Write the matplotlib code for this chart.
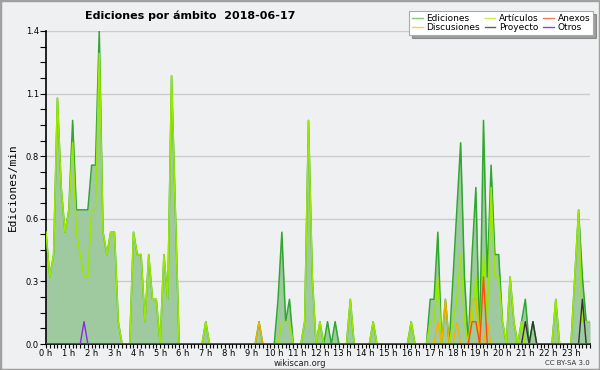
import matplotlib
matplotlib.use("Agg")
import matplotlib.pyplot as plt
import numpy as np
from matplotlib.lines import Line2D
from matplotlib.patches import Rectangle
from matplotlib.ticker import FixedLocator, MultipleLocator

# 10-minute buckets, edits per minute (144 values, rows = 2 hours)
ediciones = [
    0.5, 0.3, 0.4, 1.1, 0.7, 0.5, 0.6, 1.0, 0.6, 0.6, 0.6, 0.6,
    0.8, 0.8, 1.4, 0.5, 0.4, 0.5, 0.5, 0.1, 0, 0, 0, 0.5,
    0.4, 0.4, 0.1, 0.4, 0.2, 0.2, 0, 0.4, 0.2, 1.2, 0.6, 0,
    0, 0, 0, 0, 0, 0, 0.1, 0, 0, 0, 0, 0,
    0, 0, 0, 0, 0, 0, 0, 0, 0.1, 0, 0, 0,
    0, 0.2, 0.5, 0.1, 0.2, 0, 0, 0, 0.1, 1.0, 0.3, 0,
    0.1, 0, 0.1, 0, 0.1, 0, 0, 0, 0.2, 0, 0, 0,
    0, 0, 0.1, 0, 0, 0, 0, 0, 0, 0, 0, 0,
    0.1, 0, 0, 0, 0, 0.2, 0.2, 0.5, 0, 0.2, 0, 0.3,
    0.6, 0.9, 0.3, 0, 0.4, 0.7, 0, 1.0, 0.3, 0.8, 0.4, 0.4,
    0.1, 0, 0.3, 0.1, 0, 0.1, 0.2, 0, 0.1, 0, 0, 0,
    0, 0, 0.2, 0, 0, 0, 0, 0.3, 0.6, 0.3, 0.1, 0.1,
]
articulos = [
    0.5, 0.3, 0.4, 1.1, 0.7, 0.5, 0.6, 0.9, 0.5, 0.4, 0.3, 0.3,
    0.6, 0.6, 1.3, 0.5, 0.4, 0.5, 0.5, 0.1, 0, 0, 0, 0.5,
    0.4, 0.4, 0.1, 0.4, 0.2, 0.2, 0, 0.4, 0.2, 1.2, 0.6, 0,
    0, 0, 0, 0, 0, 0, 0.1, 0, 0, 0, 0, 0,
    0, 0, 0, 0, 0, 0, 0, 0, 0, 0, 0, 0,
    0, 0, 0.1, 0.1, 0.1, 0, 0, 0, 0.1, 1.0, 0.3, 0,
    0.1, 0, 0, 0, 0, 0, 0, 0, 0.2, 0, 0, 0,
    0, 0, 0.1, 0, 0, 0, 0, 0, 0, 0, 0, 0,
    0.1, 0, 0, 0, 0, 0.1, 0.1, 0.3, 0, 0, 0, 0.1,
    0.2, 0.4, 0.1, 0, 0.1, 0.3, 0, 0.4, 0.1, 0.7, 0.3, 0.3,
    0.1, 0, 0.3, 0.1, 0, 0.1, 0, 0, 0, 0, 0, 0,
    0, 0, 0.2, 0, 0, 0, 0, 0.3, 0.6, 0.1, 0.1, 0.1,
]
# sparse series: time of bucket -> value
discusiones_t = ["09:20", "17:10", "17:30", "18:00", "18:40", "18:50", "19:20"]
discusiones_v = [0.1, 0.1, 0.2, 0.1, 0.2, 0.2, 0.1]
anexos_t = ["18:40", "18:50", "19:10"]
anexos_v = [0.1, 0.1, 0.3]
proyecto_t = ["21:00", "21:20", "23:30"]
proyecto_v = [0.1, 0.1, 0.2]
otros_t = ["01:40"]
otros_v = [0.1]

hourLabels = [f"{h} h" for h in range(24)]
yTicks = [0, 0.28, 0.56, 0.84, 1.12, 1.4]
yLabels = ["0.0", "0.3", "0.6", "0.8", "1.1", "1.4"]


def sparse(times, vals):
    arr = np.zeros(144)
    for tt, v in zip(times, vals):
        hh, mm = tt.split(":")
        arr[int(hh) * 6 + int(mm) // 10] = v
    return arr


t = np.arange(144) / 6.0
bg = "#eff0f1"

fig = plt.figure(figsize=(6, 3.7), dpi=100, facecolor=bg)
ax = fig.add_axes([46 / 600, 1 - 344 / 370, 544 / 600, 313 / 370])
ax.set_facecolor(bg)

ax.fill_between(t, ediciones, color="#9fca9f", lw=0, zorder=2)
ax.plot(t, ediciones, color="#2ea82e", lw=1.1, zorder=3)
ax.plot(t, articulos, color="#9be800", lw=1.1, zorder=4)
ax.plot(t, sparse(discusiones_t, discusiones_v), color="#f0b400", lw=1.0, zorder=5)
ax.plot(t, sparse(anexos_t, anexos_v), color="#ff4a10", lw=1.0, zorder=6)
ax.plot(t, sparse(proyecto_t, proyecto_v), color="#333333", lw=1.0, zorder=7)
ax.plot(t, sparse(otros_t, otros_v), color="#8a2be2", lw=1.0, zorder=8)

ax.set_xlim(0, 143 / 6)
ax.set_ylim(0, 1.4)
ax.xaxis.set_major_locator(FixedLocator(range(24)))
ax.set_xticklabels(hourLabels)
ax.xaxis.set_minor_locator(MultipleLocator(1 / 6))
ax.yaxis.set_major_locator(FixedLocator(yTicks))
ax.set_yticklabels(yLabels)
ax.yaxis.set_minor_locator(MultipleLocator(0.07))
ax.tick_params(axis="both", which="both", direction="out", color="black", width=0.8, labelsize=6, pad=1)
ax.tick_params(axis="x", which="both", length=3, pad=0.5)
ax.tick_params(axis="y", which="both", length=4)
for s in ["top", "right"]:
    ax.spines[s].set_visible(False)
ax.spines["left"].set_linewidth(1.2)
ax.spines["bottom"].set_linewidth(1.2)
ax.grid(axis="y", which="major", color="#cccccc", lw=1.0, zorder=1)
ax.set_axisbelow(True)
ax.set_ylabel("Ediciones/min", fontsize=8, family="DejaVu Sans Mono", labelpad=6)

fig.text(85 / 600, 1 - 16 / 370, "Ediciones por ámbito  2018-06-17", fontsize=8,
         fontweight="bold", ha="left", va="center")
fig.text(300 / 600, 1 - 363.5 / 370, "wikiscan.org", fontsize=6, ha="center", va="center", color="#222222")
fig.text(590 / 600, 1 - 363 / 370, "CC BY-SA 3.0", fontsize=5, ha="right", va="center", color="#333333")

handles = [
    Line2D([], [], color="#80c880", lw=1), Line2D([], [], color="#ffd040", lw=1),
    Line2D([], [], color="#c8f040", lw=1), Line2D([], [], color="#606060", lw=1),
    Line2D([], [], color="#f08050", lw=1), Line2D([], [], color="#9040e0", lw=1),
]
names = ["Ediciones", "Discusiones", "Artículos", "Proyecto", "Anexos", "Otros"]
leg = fig.legend(handles, names, ncol=3, loc="upper right", bbox_to_anchor=(593 / 600, 1 - 11 / 370),
                 fontsize=6.5, frameon=True, fancybox=False, shadow=True, handlelength=1.2,
                 handletextpad=0.4, columnspacing=0.5, labelspacing=0.05, borderpad=0.3,
                 borderaxespad=0)
leg.get_frame().set_edgecolor("#aaaaaa")
leg.get_frame().set_linewidth(0.8)

fig.patches.append(Rectangle((0, 0), 1, 1, transform=fig.transFigure, fill=False,
                             edgecolor="#a0a0a0", lw=2.5))

fig.savefig("out.png", dpi=100, facecolor=bg)
